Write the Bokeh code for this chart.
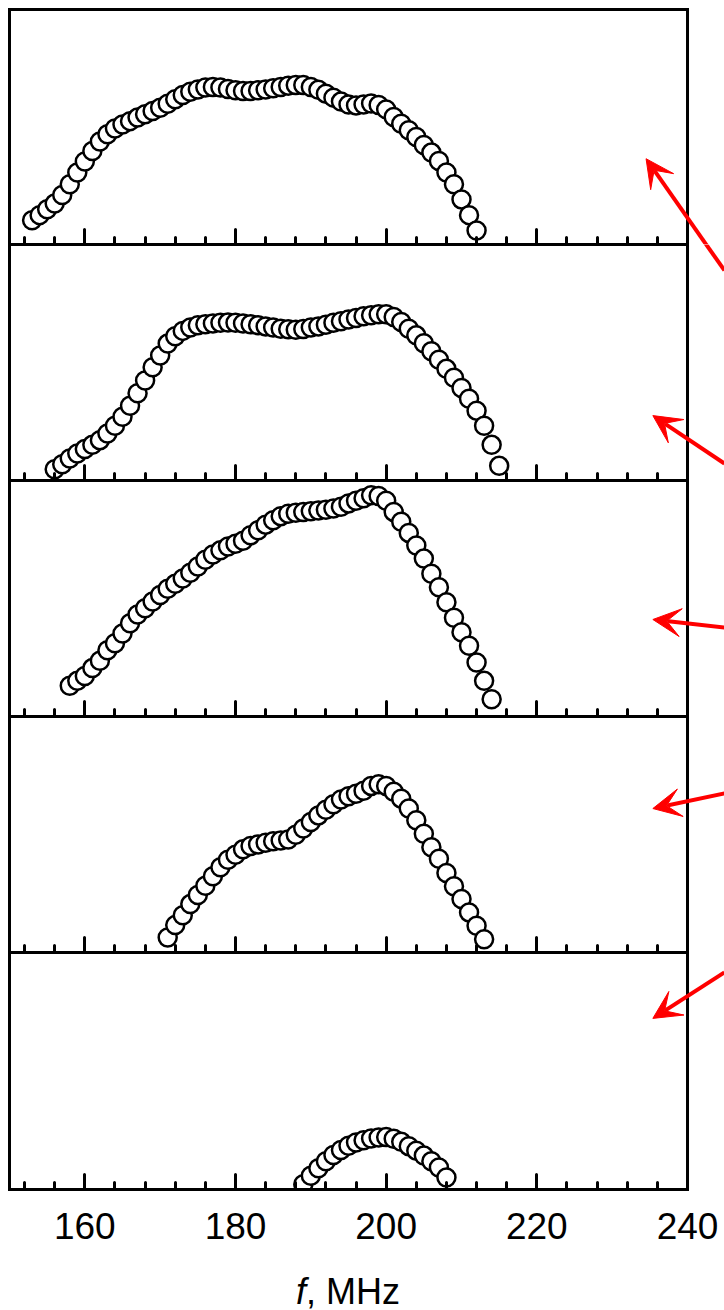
from bokeh.plotting import figure
from bokeh.models import Range1d, FixedTicker, Arrow, VeeHead, LinearAxis, Span, Div
from bokeh.layouts import column
from bokeh.embed import file_html
from bokeh.resources import INLINE

# ---- data (frequency in MHz, amplitude in arbitrary units) ----
f1 = list(range(153, 213))
a1 = [10.3, 12.5, 15.0, 17.4, 21.1, 25.6, 30.6, 35.3, 39.8, 43.8,
      46.9, 49.4, 51.1, 52.5, 54.0, 55.4, 56.8, 58.2, 59.9, 61.8,
      63.6, 65.0, 66.0, 66.8, 67.0, 66.8, 66.2, 65.6, 65.3, 65.3,
      65.6, 66.0, 66.5, 67.0, 67.6, 67.9, 67.9, 67.0, 65.8, 64.2,
      62.5, 60.8, 59.6, 59.2, 59.6, 60.0, 59.4, 57.5, 54.3, 51.4,
      48.6, 45.7, 42.3, 39.1, 35.5, 30.6, 25.6, 19.2, 12.5, 6.0]

f2 = list(range(156, 216))
a2 = [4.8, 6.9, 9.3, 11.4, 13.3, 15.1, 17.1, 19.9, 23.2, 27.0,
      31.7, 37.0, 42.4, 48.0, 53.0, 58.0, 61.1, 63.4, 64.8, 65.8,
      66.2, 66.5, 66.8, 66.9, 66.8, 66.5, 66.2, 65.8, 65.3, 64.8,
      64.3, 64.1, 63.9, 64.2, 64.8, 65.3, 66.0, 66.8, 67.5, 68.2,
      68.9, 69.6, 70.0, 70.4, 70.4, 69.3, 67.2, 64.3, 61.5, 58.2,
      54.8, 51.2, 47.3, 43.5, 39.2, 34.6, 29.6, 23.2, 15.1, 6.2]

f3 = list(range(158, 215))
a3 = [13.0, 15.1, 17.2, 20.5, 23.6, 28.1, 31.0, 35.2, 39.5, 43.2,
      45.9, 48.7, 51.5, 54.1, 56.2, 58.5, 60.9, 63.6, 66.4, 68.6,
      70.4, 72.0, 73.2, 74.5, 76.8, 78.9, 81.3, 83.2, 84.9, 85.9,
      86.3, 86.6, 87.0, 87.3, 87.6, 88.1, 88.9, 90.3, 91.4, 92.5,
      93.7, 93.4, 91.4, 86.7, 82.5, 77.8, 72.5, 66.9, 60.5, 54.8,
      48.4, 41.8, 35.7, 30.0, 22.9, 15.1, 7.3]

f4 = list(range(171, 214))
a4 = [6.4, 11.6, 15.8, 20.5, 24.4, 28.3, 32.3, 36.1, 39.3, 41.4,
      43.7, 45.1, 45.8, 46.5, 47.1, 47.5, 47.9, 49.9, 52.5, 55.3,
      58.1, 60.5, 62.8, 64.8, 66.2, 67.3, 68.5, 70.6, 71.3, 70.6,
      68.1, 65.2, 61.0, 56.0, 50.3, 44.6, 39.7, 33.7, 28.1, 22.7,
      17.0, 11.3, 5.6]

f5 = list(range(189, 209))
a5 = [2.2, 5.8, 9.0, 11.9, 14.6, 16.7, 18.5, 19.8, 20.8, 21.5,
      21.9, 22.1, 21.4, 20.1, 18.3, 16.4, 14.3, 11.9, 9.3, 5.1]

series_f = [f1, f2, f3, f4, f5]
series_a = [a1, a2, a3, a4, a5]

major_ticks = [160, 180, 200, 220, 240]
minor_ticks = [152, 156, 164, 168, 172, 176, 184, 188, 192, 196,
               204, 208, 212, 216, 224, 228, 232, 236]
tick_labels = ["160", "180", "200", "220", "240"]
x_label_html = "<i>f</i>, MHz"

# red arrows, one per panel (tip and tail, in each panel's own data units)
arrow_tip_x = [234.5, 235.4, 235.4, 235.4, 235.4]
arrow_tip_y = [36.5, 27.5, 41.1, 61.0, 72.2]
arrow_tail_x = [244.9, 244.9, 244.9, 244.9, 244.9]
arrow_tail_y = [-11.1, 7.2, 37.7, 67.4, 91.6]
# continuation of the first arrow's shaft inside the second panel
arrow1_cont = (244.9, 89.0, 234.5, 136.3)

FONT = "Liberation Sans"
X_LO, X_HI, X_VIEW = 150, 240, 244.91
frame_heights = [235, 236, 236, 236, 237]


def border_axis(**kw):
    ax = LinearAxis(**kw)
    ax.axis_line_width = 3
    ax.axis_line_color = "black"
    ax.axis_line_cap = "square"
    ax.major_tick_out = 0
    ax.minor_tick_out = 0
    ax.major_label_text_font_size = "0px"
    ax.major_label_text_color = None
    ax.major_label_standoff = 0
    return ax


panels = []
for i in range(5):
    last = (i == 4)
    p = figure(frame_width=715, frame_height=frame_heights[i],
               x_range=Range1d(X_LO, X_VIEW), y_range=Range1d(0, 100),
               output_backend="svg", toolbar_location=None,
               x_axis_location=None, y_axis_location=None,
               min_border_left=9, min_border_right=0,
               min_border_top=9 if i == 0 else 0,
               min_border_bottom=85 if last else 0,
               background_fill_color="white", border_fill_color="white")
    p.grid.grid_line_color = None
    p.outline_line_color = None

    # bottom axis with inward ticks
    ax = border_axis(ticker=FixedTicker(ticks=major_ticks, minor_ticks=minor_ticks),
                     bounds=(X_LO, X_HI))
    ax.major_tick_in = 15
    ax.minor_tick_in = 7
    ax.major_tick_line_width = 3
    ax.minor_tick_line_width = 3
    ax.major_tick_line_cap = "round"
    ax.minor_tick_line_cap = "round"
    if last:
        ax.major_label_overrides = {t: s for t, s in zip(major_ticks, tick_labels)}
        ax.major_label_text_font = FONT
        ax.major_label_text_font_size = "37px"
        ax.major_label_text_color = "black"
        ax.major_label_standoff = 23
    p.add_layout(ax, "below")

    # left border
    lax = border_axis(ticker=FixedTicker(ticks=[]))
    lax.major_tick_in = 0
    lax.minor_tick_in = 0
    p.add_layout(lax, "left")

    # top border
    tax = border_axis(ticker=FixedTicker(ticks=[]), bounds=(X_LO, X_HI))
    tax.major_tick_in = 0
    tax.minor_tick_in = 0
    p.add_layout(tax, "above")

    # right border at 240 MHz
    p.add_layout(Span(location=X_HI, dimension="height", line_color="black",
                      line_width=3))

    p.scatter(series_f[i], series_a[i], marker="circle", size=18,
              fill_color="white", line_color="black", line_width=2.5)

    p.add_layout(Arrow(end=VeeHead(size=28, fill_color="red", line_color="red"),
                       x_start=arrow_tail_x[i], y_start=arrow_tail_y[i],
                       x_end=arrow_tip_x[i], y_end=arrow_tip_y[i],
                       line_color="red", line_width=4))
    if i == 1:
        xs, ys, xe, ye = arrow1_cont
        p.add_layout(Arrow(end=None, x_start=xs, y_start=ys, x_end=xe, y_end=ye,
                           line_color="red", line_width=4))
    panels.append(p)

xlabel = Div(text=x_label_html, width=678, height=36, margin=(0, 0, 0, 9),
             styles={"font-family": FONT, "font-size": "36px", "line-height": "1",
                     "text-align": "center", "color": "black", "white-space": "nowrap"})

layout = column(*panels, xlabel, spacing=0)
open("out.html", "w").write(file_html(layout, INLINE))
